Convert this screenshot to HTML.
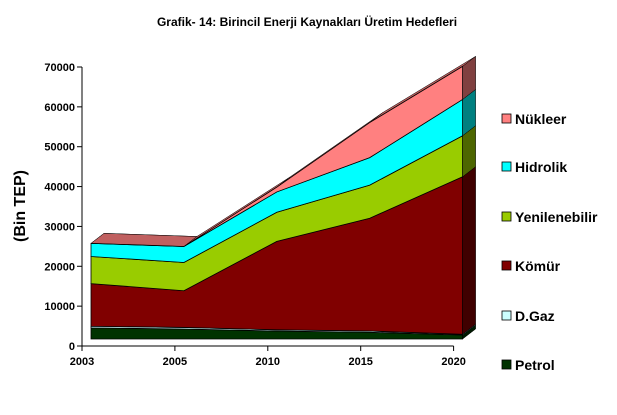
<!DOCTYPE html>
<html><head><meta charset="utf-8">
<style>
html,body{margin:0;padding:0;background:#fff;}
svg{display:block;font-family:"Liberation Sans",Arial,sans-serif;}
</style></head>
<body>
<svg id="chart" width="617" height="415" viewBox="0 0 617 415">
<text x="307" y="26" text-anchor="middle" font-size="12" font-weight="bold">Grafik- 14: Birincil Enerji Kaynakları Üretim Hedefleri</text>
<text transform="translate(25,206) rotate(-90)" text-anchor="middle" font-size="16" font-weight="bold">(Bin TEP)</text>
<g id="plot"></g>
<g id="axes"></g>
<g id="legend"></g>
</svg>
<script>
const categories = ["2003","2005","2010","2015","2020"];
const petrol = [2800,2500,2000,1700,1000];
const dgaz = [400,400,300,300,200];
const komur = [10700,9200,22200,28300,39500];
const yenilenebilir = [6800,7100,7300,8300,10300];
const hidrolik = [3300,4000,5100,6900,9100];
const nukleer = [0,0,1200,8800,8300];
const yTicks = [0,10000,20000,30000,40000,50000,60000,70000];
const seriesNames = ["Petrol","D.Gaz","Kömür","Yenilenebilir","Hidrolik","Nükleer"];

const NS="http://www.w3.org/2000/svg";
const X0=82, XSTEP=92.9, Y0=346, YMAX=70000, YTOP=67;
function xAxis(i){return X0+i*XSTEP;}
function yAxis(v){return Y0-(v/YMAX)*(Y0-YTOP);}
const FX=9, FY=-7, DX=13, DY=-10;
function mk(tag,attrs,parent){const e=document.createElementNS(NS,tag);for(const k in attrs)e.setAttribute(k,attrs[k]);parent.appendChild(e);return e;}

const series=[petrol,dgaz,komur,yenilenebilir,hidrolik,nukleer];
const fronts=["#003300","#ccffff","#800000","#99cc00","#00ffff","#ff8080"];
const tops=["#004d00","#99cccc","#600000","#7a9900","#00cccc","#c06060"];
const sides=["#001a00","#669999","#400000","#4d6600","#008080","#804040"];
const keys=["petrol","dgaz","komur","yenilenebilir","hidrolik","nukleer"];
const plot=document.getElementById('plot');
let base=categories.map(()=>0);
const n=categories.length;
series.forEach((s,si)=>{
  const top=base.map((b,i)=>b+s[i]);
  const fx=i=>xAxis(i)+FX, fy=v=>yAxis(v)+FY;
  // top faces
  for(let i=0;i<n-1;i++){
    const pts=[[fx(i),fy(top[i])],[fx(i+1),fy(top[i+1])],[fx(i+1)+DX,fy(top[i+1])+DY],[fx(i)+DX,fy(top[i])+DY]];
    const p=mk('polygon',{points:pts.map(p=>p.join(',')).join(' '),fill:tops[si],stroke:'#000','stroke-width':0.5},plot);
    
    
  }
  // front face
  const pts=[];
  for(let i=0;i<n;i++)pts.push([fx(i),fy(top[i])]);
  for(let i=n-1;i>=0;i--)pts.push([fx(i),fy(base[i])]);
  const f=mk('polygon',{points:pts.map(p=>p.join(',')).join(' '),fill:fronts[si],stroke:'#000','stroke-width':0.8},plot);
  
  
  // right side
  const L=n-1;
  const sp=[[fx(L),fy(base[L])],[fx(L),fy(top[L])],[fx(L)+DX,fy(top[L])+DY],[fx(L)+DX,fy(base[L])+DY]];
  const sd=mk('polygon',{points:sp.map(p=>p.join(',')).join(' '),fill:sides[si],stroke:'#000','stroke-width':0.5},plot);
  
  
  base=top;
});

const axes=document.getElementById('axes');
mk('line',{x1:X0,y1:YTOP,x2:X0,y2:Y0,stroke:'#000','stroke-width':1},axes);
mk('line',{x1:X0,y1:Y0,x2:xAxis(n-1),y2:Y0,stroke:'#000','stroke-width':1},axes);
yTicks.forEach(v=>{
  const y=yAxis(v);
  mk('line',{x1:X0-5,y1:y,x2:X0,y2:y,stroke:'#000'},axes);
  const t=mk('text',{x:X0-7,y:y+4,'text-anchor':'end','font-size':11,'font-weight':'bold'},axes);
  t.textContent=v;
  
  
});
categories.forEach((c,i)=>{
  const x=xAxis(i);
  mk('line',{x1:x,y1:Y0,x2:x,y2:Y0+5,stroke:'#000'},axes);
  const t=mk('text',{x:x,y:Y0+19,'text-anchor':'middle','font-size':11,'font-weight':'bold'},axes);
  t.textContent=c;
  
  
});

const legend=document.getElementById('legend');
const legY=[365,316,266,217,167,119];
seriesNames.forEach((nm,i)=>{
  const g=mk('g',{},legend);
  
  
  mk('rect',{x:502,y:legY[i]-5,width:9,height:9,fill:fronts[i],stroke:'#000','stroke-width':0.8},g);
  const t=mk('text',{x:515,y:legY[i]+5,'font-size':14,'font-weight':'bold'},g);
  t.textContent=nm;
});
</script>
</body></html>
